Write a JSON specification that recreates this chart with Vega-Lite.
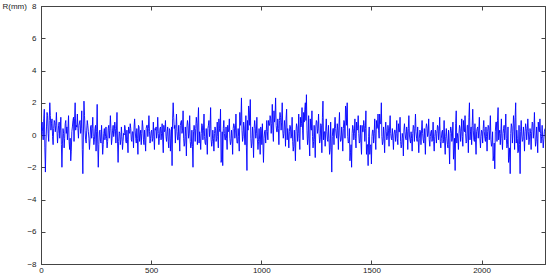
{
  "$schema": "https://vega.github.io/schema/vega-lite/v6.json",
  "width": 504,
  "height": 258,
  "autosize": "none",
  "padding": {"left": 41, "top": 6, "right": 5, "bottom": 13},
  "background": "white",
  "config": {
    "view": {"stroke": "#444", "strokeWidth": 1},
    "axis": {"grid": false, "domainColor": "#444", "tickColor": "#444", "labelColor": "#222", "labelFont": "Liberation Sans", "labelFontSize": 8, "titleFont": "Liberation Sans", "titleFontSize": 8, "titleFontWeight": "normal", "titleColor": "#222"}
  },
  "data": {"values": [
{"x":0,"y":0},{"x":2.5,"y":0.5},{"x":5,"y":0.8},{"x":7.5,"y":0.2},{"x":10,"y":-0.3},{"x":12.5,"y":1.0},{"x":15,"y":1.6},{"x":17.5,"y":-0.8},{"x":20,"y":-2.3},{"x":22.5,"y":-0.5},{"x":25,"y":0.5},{"x":27.5,"y":1.4},{"x":30,"y":1.2},{"x":32.5,"y":0.1},{"x":35,"y":-0.4},{"x":37.5,"y":0.9},{"x":40,"y":2.0},{"x":42.5,"y":1.2},{"x":45,"y":0.3},{"x":47.5,"y":0.7},{"x":50,"y":1.0},{"x":52.5,"y":-0.1},{"x":55,"y":-0.6},{"x":57.5,"y":0.4},{"x":60,"y":0.9},{"x":62.5,"y":0.8},{"x":65,"y":0.2},{"x":67.5,"y":0.6},{"x":70,"y":1.4},{"x":72.5,"y":0.3},{"x":75,"y":-0.5},{"x":77.5,"y":0.1},{"x":80,"y":0.6},{"x":82.5,"y":0.8},{"x":85,"y":-0.2},{"x":87.5,"y":0.3},{"x":90,"y":1.1},{"x":92.5,"y":-0.6},{"x":95,"y":-2.0},{"x":97.5,"y":-0.5},{"x":100,"y":0.4},
{"x":102.5,"y":0.1},{"x":105,"y":-0.8},{"x":107.5,"y":-0.2},{"x":110,"y":0.7},{"x":112.5,"y":0.9},{"x":115,"y":0.1},{"x":117.5,"y":0.5},{"x":120,"y":-0.3},{"x":122.5,"y":0.4},{"x":125,"y":1.2},{"x":127.5,"y":-0.4},{"x":130,"y":-0.9},{"x":132.5,"y":-0.2},{"x":135,"y":-1.6},{"x":137.5,"y":-1.0},{"x":140,"y":0.2},{"x":142.5,"y":0.5},{"x":145,"y":0.9},{"x":147.5,"y":1.1},{"x":150,"y":-0.4},{"x":152.5,"y":1.0},{"x":155,"y":2.0},{"x":157.5,"y":0.3},{"x":160,"y":0.6},{"x":162.5,"y":0.5},{"x":165,"y":1.3},{"x":167.5,"y":0.4},{"x":170,"y":-0.2},{"x":172.5,"y":0.6},{"x":175,"y":0.8},{"x":177.5,"y":0.9},{"x":180,"y":0.1},{"x":182.5,"y":0.4},{"x":185,"y":1.5},{"x":187.5,"y":-0.9},{"x":190,"y":-2.4},{"x":192.5,"y":0.0},{"x":195,"y":2.1},{"x":197.5,"y":1.2},{"x":200,"y":0.3},
{"x":202.5,"y":-0.3},{"x":205,"y":-0.5},{"x":207.5,"y":0.3},{"x":210,"y":0.9},{"x":212.5,"y":0.6},{"x":215,"y":0.2},{"x":217.5,"y":-0.2},{"x":220,"y":-0.9},{"x":222.5,"y":-0.3},{"x":225,"y":0.5},{"x":227.5,"y":0.6},{"x":230,"y":-0.2},{"x":232.5,"y":0.4},{"x":235,"y":1.1},{"x":237.5,"y":-0.1},{"x":240,"y":-0.6},{"x":242.5,"y":-0.3},{"x":245,"y":0.4},{"x":247.5,"y":0.6},{"x":250,"y":-1.0},{"x":252.5,"y":0.2},{"x":255,"y":1.9},{"x":257.5,"y":-0.5},{"x":260,"y":-2.0},{"x":262.5,"y":-0.6},{"x":265,"y":0.2},{"x":267.5,"y":0.3},{"x":270,"y":-0.4},{"x":272.5,"y":-0.5},{"x":275,"y":0.6},{"x":277.5,"y":-0.3},{"x":280,"y":-1.2},{"x":282.5,"y":-0.6},{"x":285,"y":0.1},{"x":287.5,"y":0.4},{"x":290,"y":-0.3},{"x":292.5,"y":-0.1},{"x":295,"y":0.5},{"x":297.5,"y":-0.2},{"x":300,"y":-0.8},
{"x":302.5,"y":-0.4},{"x":305,"y":0.4},{"x":307.5,"y":0.6},{"x":310,"y":-0.2},{"x":312.5,"y":0.3},{"x":315,"y":1.2},{"x":317.5,"y":0.4},{"x":320,"y":-0.6},{"x":322.5,"y":-0.2},{"x":325,"y":0.3},{"x":327.5,"y":0.6},{"x":330,"y":-0.1},{"x":332.5,"y":0.2},{"x":335,"y":0.8},{"x":337.5,"y":0.4},{"x":340,"y":-0.5},{"x":342.5,"y":0.3},{"x":345,"y":1.4},{"x":347.5,"y":-0.5},{"x":350,"y":-1.7},{"x":352.5,"y":-0.4},{"x":355,"y":0.2},{"x":357.5,"y":0.1},{"x":360,"y":-0.6},{"x":362.5,"y":-0.3},{"x":365,"y":0.5},{"x":367.5,"y":-0.1},{"x":370,"y":-0.9},{"x":372.5,"y":-0.4},{"x":375,"y":0.1},{"x":377.5,"y":0.0},{"x":380,"y":0.6},{"x":382.5,"y":0.4},{"x":385,"y":-0.4},{"x":387.5,"y":-0.5},{"x":390,"y":0.3},{"x":392.5,"y":-0.3},{"x":395,"y":-1.1},{"x":397.5,"y":0.5},{"x":400,"y":0.2},
{"x":402.5,"y":0.1},{"x":405,"y":0.7},{"x":407.5,"y":0.4},{"x":410,"y":-0.3},{"x":412.5,"y":-0.4},{"x":415,"y":0.2},{"x":417.5,"y":0.2},{"x":420,"y":-0.8},{"x":422.5,"y":0.5},{"x":425,"y":1.0},{"x":427.5,"y":0.3},{"x":430,"y":-0.2},{"x":432.5,"y":-0.5},{"x":435,"y":0.4},{"x":437.5,"y":-0.2},{"x":440,"y":-1.2},{"x":442.5,"y":0.6},{"x":445,"y":0.5},{"x":447.5,"y":-0.4},{"x":450,"y":0.0},{"x":452.5,"y":0.3},{"x":455,"y":-0.6},{"x":457.5,"y":0.1},{"x":460,"y":0.9},{"x":462.5,"y":0.5},{"x":465,"y":-0.3},{"x":467.5,"y":-0.6},{"x":470,"y":0.3},{"x":472.5,"y":-0.3},{"x":475,"y":-1.0},{"x":477.5,"y":0.4},{"x":480,"y":0.6},{"x":482.5,"y":0.6},{"x":485,"y":-0.1},{"x":487.5,"y":0.4},{"x":490,"y":1.2},{"x":492.5,"y":0.2},{"x":495,"y":-0.5},{"x":497.5,"y":-0.2},{"x":500,"y":0.2},
{"x":502.5,"y":0.3},{"x":505,"y":-0.4},{"x":507.5,"y":-0.2},{"x":510,"y":0.8},{"x":512.5,"y":-0.1},{"x":515,"y":-0.9},{"x":517.5,"y":0.4},{"x":520,"y":0.3},{"x":522.5,"y":0.5},{"x":525,"y":-0.2},{"x":527.5,"y":0.2},{"x":530,"y":1.1},{"x":532.5,"y":0.1},{"x":535,"y":-0.6},{"x":537.5,"y":-0.2},{"x":540,"y":0.4},{"x":542.5,"y":0.5},{"x":545,"y":-0.3},{"x":547.5,"y":0.1},{"x":550,"y":0.7},{"x":552.5,"y":-0.3},{"x":555,"y":-1.1},{"x":557.5,"y":0.6},{"x":560,"y":0.2},{"x":562.5,"y":0.3},{"x":565,"y":0.9},{"x":567.5,"y":-0.1},{"x":570,"y":-0.4},{"x":572.5,"y":0.2},{"x":575,"y":0.5},{"x":577.5,"y":-0.4},{"x":580,"y":-0.8},{"x":582.5,"y":0.4},{"x":585,"y":0.3},{"x":587.5,"y":-1.0},{"x":590,"y":-0.2},{"x":592.5,"y":0.5},{"x":595,"y":-1.9},{"x":597.5,"y":1.0},{"x":600,"y":2.0},
{"x":602.5,"y":1.1},{"x":605,"y":0.4},{"x":607.5,"y":0.6},{"x":610,"y":-0.5},{"x":612.5,"y":0.4},{"x":615,"y":1.3},{"x":617.5,"y":0.2},{"x":620,"y":-0.3},{"x":622.5,"y":-0.3},{"x":625,"y":0.6},{"x":627.5,"y":-0.1},{"x":630,"y":-1.0},{"x":632.5,"y":0.6},{"x":635,"y":0.8},{"x":637.5,"y":0.9},{"x":640,"y":0.1},{"x":642.5,"y":0.3},{"x":645,"y":1.5},{"x":647.5,"y":-0.2},{"x":650,"y":-0.7},{"x":652.5,"y":-0.5},{"x":655,"y":0.5},{"x":657.5,"y":-0.1},{"x":660,"y":-1.3},{"x":662.5,"y":0.5},{"x":665,"y":0.9},{"x":667.5,"y":0.6},{"x":670,"y":-0.2},{"x":672.5,"y":0.1},{"x":675,"y":1.2},{"x":677.5,"y":-0.4},{"x":680,"y":-0.8},{"x":682.5,"y":-0.6},{"x":685,"y":0.3},{"x":687.5,"y":-0.7},{"x":690,"y":-2.0},{"x":692.5,"y":0.2},{"x":695,"y":0.6},{"x":697.5,"y":0.3},{"x":700,"y":-0.4},
{"x":702.5,"y":0.4},{"x":705,"y":1.1},{"x":707.5,"y":0.7},{"x":710,"y":-0.6},{"x":712.5,"y":0.8},{"x":715,"y":1.7},{"x":717.5,"y":-0.5},{"x":720,"y":0.2},{"x":722.5,"y":-0.2},{"x":725,"y":-0.9},{"x":727.5,"y":0.1},{"x":730,"y":0.7},{"x":732.5,"y":0.6},{"x":735,"y":-0.3},{"x":737.5,"y":0.3},{"x":740,"y":1.3},{"x":742.5,"y":-0.1},{"x":745,"y":-0.5},{"x":747.5,"y":-0.6},{"x":750,"y":0.4},{"x":752.5,"y":-0.2},{"x":755,"y":-1.2},{"x":757.5,"y":0.4},{"x":760,"y":0.6},{"x":762.5,"y":0.9},{"x":765,"y":-0.1},{"x":767.5,"y":0.4},{"x":770,"y":1.7},{"x":772.5,"y":-0.3},{"x":775,"y":-0.7},{"x":777.5,"y":-0.4},{"x":780,"y":0.3},{"x":782.5,"y":-0.2},{"x":785,"y":-1.0},{"x":787.5,"y":0.1},{"x":790,"y":0.5},{"x":792.5,"y":0.3},{"x":795,"y":-0.4},{"x":797.5,"y":-0.2},{"x":800,"y":0.8},
{"x":802.5,"y":-0.1},{"x":805,"y":-0.8},{"x":807.5,"y":1.0},{"x":810,"y":0.4},{"x":812.5,"y":0.2},{"x":815,"y":1.6},{"x":817.5,"y":-1.7},{"x":820,"y":-1.5},{"x":822.5,"y":0.2},{"x":825,"y":-1.9},{"x":827.5,"y":0.4},{"x":830,"y":0.9},{"x":832.5,"y":0.1},{"x":835,"y":-0.3},{"x":837.5,"y":-0.3},{"x":840,"y":0.5},{"x":842.5,"y":-0.2},{"x":845,"y":-0.9},{"x":847.5,"y":0.6},{"x":850,"y":0.2},{"x":852.5,"y":0.3},{"x":855,"y":1.0},{"x":857.5,"y":-0.2},{"x":860,"y":-0.6},{"x":862.5,"y":-0.4},{"x":865,"y":0.3},{"x":867.5,"y":-0.2},{"x":870,"y":-1.2},{"x":872.5,"y":0.4},{"x":875,"y":0.7},{"x":877.5,"y":0.6},{"x":880,"y":-0.2},{"x":882.5,"y":0.3},{"x":885,"y":1.3},{"x":887.5,"y":0.0},{"x":890,"y":-0.5},{"x":892.5,"y":-0.5},{"x":895,"y":0.4},{"x":897.5,"y":-0.1},{"x":900,"y":-1.0},
{"x":902.5,"y":1.4},{"x":905,"y":0.6},{"x":907.5,"y":0.9},{"x":910,"y":2.3},{"x":912.5,"y":0.3},{"x":915,"y":-0.4},{"x":917.5,"y":-0.1},{"x":920,"y":0.8},{"x":922.5,"y":0.5},{"x":925,"y":-0.6},{"x":927.5,"y":-0.6},{"x":930,"y":1.2},{"x":932.5,"y":-0.8},{"x":935,"y":-2.2},{"x":937.5,"y":0.9},{"x":940,"y":0.3},{"x":942.5,"y":1.8},{"x":945,"y":1.5},{"x":947.5,"y":0.6},{"x":950,"y":2.2},{"x":952.5,"y":-0.2},{"x":955,"y":-0.8},{"x":957.5,"y":-0.5},{"x":960,"y":0.5},{"x":962.5,"y":-0.2},{"x":965,"y":-1.4},{"x":967.5,"y":0.4},{"x":970,"y":0.9},{"x":972.5,"y":0.5},{"x":975,"y":-0.2},{"x":977.5,"y":0.1},{"x":980,"y":1.1},{"x":982.5,"y":-0.3},{"x":985,"y":-0.9},{"x":987.5,"y":-0.4},{"x":990,"y":0.4},{"x":992.5,"y":-0.3},{"x":995,"y":-1.2},{"x":997.5,"y":0.5},{"x":1000,"y":0.3},
{"x":1002.5,"y":-0.6},{"x":1005,"y":0.7},{"x":1007.5,"y":-0.5},{"x":1010,"y":-1.7},{"x":1012.5,"y":-0.2},{"x":1015,"y":0.2},{"x":1017.5,"y":0.3},{"x":1020,"y":-0.5},{"x":1022.5,"y":0.2},{"x":1025,"y":0.9},{"x":1027.5,"y":0.2},{"x":1030,"y":-0.3},{"x":1032.5,"y":0.9},{"x":1035,"y":0.6},{"x":1037.5,"y":0.6},{"x":1040,"y":1.2},{"x":1042.5,"y":1.0},{"x":1045,"y":0.1},{"x":1047.5,"y":0.7},{"x":1050,"y":1.9},{"x":1052.5,"y":0.3},{"x":1055,"y":-0.4},{"x":1057.5,"y":1.5},{"x":1060,"y":0.8},{"x":1062.5,"y":1.1},{"x":1065,"y":2.3},{"x":1067.5,"y":0.6},{"x":1070,"y":0.2},{"x":1072.5,"y":0.2},{"x":1075,"y":1.0},{"x":1077.5,"y":0.4},{"x":1080,"y":-0.6},{"x":1082.5,"y":0.9},{"x":1085,"y":1.4},{"x":1087.5,"y":1.1},{"x":1090,"y":0.3},{"x":1092.5,"y":0.8},{"x":1095,"y":2.0},{"x":1097.5,"y":0.3},{"x":1100,"y":-0.2},
{"x":1102.5,"y":0.1},{"x":1105,"y":0.9},{"x":1107.5,"y":0.5},{"x":1110,"y":-0.7},{"x":1112.5,"y":1.0},{"x":1115,"y":1.6},{"x":1117.5,"y":-0.3},{"x":1120,"y":0.4},{"x":1122.5,"y":0.0},{"x":1125,"y":-0.8},{"x":1127.5,"y":0.2},{"x":1130,"y":0.6},{"x":1132.5,"y":0.5},{"x":1135,"y":-0.2},{"x":1137.5,"y":0.0},{"x":1140,"y":1.1},{"x":1142.5,"y":-0.4},{"x":1145,"y":-1.0},{"x":1147.5,"y":-0.7},{"x":1150,"y":0.3},{"x":1152.5,"y":-0.5},{"x":1155,"y":-1.6},{"x":1157.5,"y":0.2},{"x":1160,"y":0.7},{"x":1162.5,"y":0.5},{"x":1165,"y":-0.4},{"x":1167.5,"y":0.1},{"x":1170,"y":1.3},{"x":1172.5,"y":-0.2},{"x":1175,"y":-0.9},{"x":1177.5,"y":1.1},{"x":1180,"y":0.5},{"x":1182.5,"y":0.7},{"x":1185,"y":1.7},{"x":1187.5,"y":0.3},{"x":1190,"y":-0.3},{"x":1192.5,"y":1.4},{"x":1195,"y":0.8},{"x":1197.5,"y":1.6},{"x":1200,"y":2.0},
{"x":1202.5,"y":0.9},{"x":1205,"y":2.5},{"x":1207.5,"y":0.3},{"x":1210,"y":-0.6},{"x":1212.5,"y":-0.2},{"x":1215,"y":1.2},{"x":1217.5,"y":-0.5},{"x":1220,"y":-1.3},{"x":1222.5,"y":1.0},{"x":1225,"y":0.4},{"x":1227.5,"y":0.3},{"x":1230,"y":1.5},{"x":1232.5,"y":-0.1},{"x":1235,"y":-0.8},{"x":1237.5,"y":-0.4},{"x":1240,"y":0.6},{"x":1242.5,"y":-0.3},{"x":1245,"y":-1.4},{"x":1247.5,"y":0.5},{"x":1250,"y":0.9},{"x":1252.5,"y":0.8},{"x":1255,"y":0.1},{"x":1257.5,"y":0.4},{"x":1260,"y":1.3},{"x":1262.5,"y":0.1},{"x":1265,"y":-0.5},{"x":1267.5,"y":-0.3},{"x":1270,"y":0.7},{"x":1272.5,"y":0.6},{"x":1275,"y":-1.1},{"x":1277.5,"y":1.1},{"x":1280,"y":2.1},{"x":1282.5,"y":-0.3},{"x":1285,"y":0.2},{"x":1287.5,"y":0.2},{"x":1290,"y":-0.7},{"x":1292.5,"y":0.3},{"x":1295,"y":1.0},{"x":1297.5,"y":0.2},{"x":1300,"y":-0.3},
{"x":1302.5,"y":-0.4},{"x":1305,"y":0.6},{"x":1307.5,"y":-0.2},{"x":1310,"y":-1.2},{"x":1312.5,"y":-0.9},{"x":1315,"y":0.8},{"x":1317.5,"y":-0.8},{"x":1320,"y":-2.3},{"x":1322.5,"y":-0.1},{"x":1325,"y":0.4},{"x":1327.5,"y":0.4},{"x":1330,"y":-0.6},{"x":1332.5,"y":0.5},{"x":1335,"y":1.1},{"x":1337.5,"y":0.4},{"x":1340,"y":0.0},{"x":1342.5,"y":-0.2},{"x":1345,"y":0.7},{"x":1347.5,"y":0.3},{"x":1350,"y":-0.9},{"x":1352.5,"y":0.5},{"x":1355,"y":1.4},{"x":1357.5,"y":0.0},{"x":1360,"y":-0.4},{"x":1362.5,"y":-0.3},{"x":1365,"y":0.5},{"x":1367.5,"y":0.0},{"x":1370,"y":-1.0},{"x":1372.5,"y":0.4},{"x":1375,"y":0.9},{"x":1377.5,"y":0.8},{"x":1380,"y":-0.2},{"x":1382.5,"y":1.8},{"x":1385,"y":1.6},{"x":1387.5,"y":0.6},{"x":1390,"y":2.0},{"x":1392.5,"y":-0.1},{"x":1395,"y":-0.5},{"x":1397.5,"y":-0.4},{"x":1400,"y":0.4},
{"x":1402.5,"y":-1.6},{"x":1405,"y":-1.1},{"x":1407.5,"y":-0.6},{"x":1410,"y":-2.0},{"x":1412.5,"y":0.1},{"x":1415,"y":0.6},{"x":1417.5,"y":0.4},{"x":1420,"y":-0.3},{"x":1422.5,"y":0.1},{"x":1425,"y":1.0},{"x":1427.5,"y":-0.2},{"x":1430,"y":-0.8},{"x":1432.5,"y":0.8},{"x":1435,"y":0.3},{"x":1437.5,"y":0.4},{"x":1440,"y":1.2},{"x":1442.5,"y":0.1},{"x":1445,"y":-0.5},{"x":1447.5,"y":-0.4},{"x":1450,"y":0.6},{"x":1452.5,"y":-0.5},{"x":1455,"y":-1.2},{"x":1457.5,"y":0.6},{"x":1460,"y":0.2},{"x":1462.5,"y":0.2},{"x":1465,"y":0.9},{"x":1467.5,"y":0.6},{"x":1470,"y":-0.4},{"x":1472.5,"y":0.4},{"x":1475,"y":1.5},{"x":1477.5,"y":-1.2},{"x":1480,"y":-0.6},{"x":1482.5,"y":-0.6},{"x":1485,"y":-1.9},{"x":1487.5,"y":-0.1},{"x":1490,"y":0.5},{"x":1492.5,"y":-1.2},{"x":1495,"y":-0.7},{"x":1497.5,"y":-0.6},{"x":1500,"y":-1.8},
{"x":1502.5,"y":-0.1},{"x":1505,"y":0.3},{"x":1507.5,"y":0.3},{"x":1510,"y":-0.5},{"x":1512.5,"y":0.1},{"x":1515,"y":1.0},{"x":1517.5,"y":-0.3},{"x":1520,"y":-0.9},{"x":1522.5,"y":0.9},{"x":1525,"y":0.4},{"x":1527.5,"y":0.5},{"x":1530,"y":1.3},{"x":1532.5,"y":0.3},{"x":1535,"y":-0.2},{"x":1537.5,"y":1.3},{"x":1540,"y":0.7},{"x":1542.5,"y":0.7},{"x":1545,"y":2.0},{"x":1547.5,"y":-0.1},{"x":1550,"y":-0.6},{"x":1552.5,"y":-0.4},{"x":1555,"y":0.5},{"x":1557.5,"y":-0.2},{"x":1560,"y":-1.1},{"x":1562.5,"y":0.3},{"x":1565,"y":0.8},{"x":1567.5,"y":0.2},{"x":1570,"y":-0.3},{"x":1572.5,"y":-0.1},{"x":1575,"y":0.6},{"x":1577.5,"y":0.3},{"x":1580,"y":-0.7},{"x":1582.5,"y":0.5},{"x":1585,"y":1.2},{"x":1587.5,"y":0.1},{"x":1590,"y":-0.2},{"x":1592.5,"y":-0.3},{"x":1595,"y":0.4},{"x":1597.5,"y":-0.2},{"x":1600,"y":-0.9},
{"x":1602.5,"y":0.0},{"x":1605,"y":0.3},{"x":1607.5,"y":0.3},{"x":1610,"y":-0.4},{"x":1612.5,"y":0.1},{"x":1615,"y":0.9},{"x":1617.5,"y":-0.2},{"x":1620,"y":-0.6},{"x":1622.5,"y":0.7},{"x":1625,"y":0.2},{"x":1627.5,"y":0.2},{"x":1630,"y":1.1},{"x":1632.5,"y":-0.4},{"x":1635,"y":-0.8},{"x":1637.5,"y":-0.6},{"x":1640,"y":0.1},{"x":1642.5,"y":-0.2},{"x":1645,"y":-1.3},{"x":1647.5,"y":0.3},{"x":1650,"y":0.7},{"x":1652.5,"y":0.2},{"x":1655,"y":-0.2},{"x":1657.5,"y":-0.3},{"x":1660,"y":0.5},{"x":1662.5,"y":0.2},{"x":1665,"y":-0.9},{"x":1667.5,"y":0.4},{"x":1670,"y":1.2},{"x":1672.5,"y":0.0},{"x":1675,"y":-0.3},{"x":1677.5,"y":-0.5},{"x":1680,"y":0.2},{"x":1682.5,"y":-0.2},{"x":1685,"y":-1.0},{"x":1687.5,"y":0.1},{"x":1690,"y":0.6},{"x":1692.5,"y":0.5},{"x":1695,"y":-0.4},{"x":1697.5,"y":0.4},{"x":1700,"y":1.3},
{"x":1702.5,"y":0.2},{"x":1705,"y":-0.2},{"x":1707.5,"y":-0.4},{"x":1710,"y":0.5},{"x":1712.5,"y":-0.3},{"x":1715,"y":-1.1},{"x":1717.5,"y":-0.2},{"x":1720,"y":0.3},{"x":1722.5,"y":0.2},{"x":1725,"y":-0.6},{"x":1727.5,"y":0.3},{"x":1730,"y":0.9},{"x":1732.5,"y":0.1},{"x":1735,"y":-0.3},{"x":1737.5,"y":-0.5},{"x":1740,"y":0.4},{"x":1742.5,"y":-0.2},{"x":1745,"y":-1.2},{"x":1747.5,"y":0.4},{"x":1750,"y":0.7},{"x":1752.5,"y":0.5},{"x":1755,"y":-0.1},{"x":1757.5,"y":0.1},{"x":1760,"y":1.0},{"x":1762.5,"y":-0.3},{"x":1765,"y":-0.7},{"x":1767.5,"y":-0.1},{"x":1770,"y":0.2},{"x":1772.5,"y":0.3},{"x":1775,"y":-0.4},{"x":1777.5,"y":-0.2},{"x":1780,"y":0.8},{"x":1782.5,"y":-0.4},{"x":1785,"y":-1.0},{"x":1787.5,"y":-0.1},{"x":1790,"y":0.3},{"x":1792.5,"y":0.2},{"x":1795,"y":-0.5},{"x":1797.5,"y":0.1},{"x":1800,"y":0.6},
{"x":1802.5,"y":0.5},{"x":1805,"y":-0.3},{"x":1807.5,"y":0.2},{"x":1810,"y":1.1},{"x":1812.5,"y":-0.4},{"x":1815,"y":-0.8},{"x":1817.5,"y":-0.2},{"x":1820,"y":0.2},{"x":1822.5,"y":0.3},{"x":1825,"y":-0.5},{"x":1827.5,"y":-0.3},{"x":1830,"y":0.9},{"x":1832.5,"y":-0.5},{"x":1835,"y":-1.2},{"x":1837.5,"y":-0.1},{"x":1840,"y":0.4},{"x":1842.5,"y":-0.2},{"x":1845,"y":-0.6},{"x":1847.5,"y":-0.8},{"x":1850,"y":0.3},{"x":1852.5,"y":-0.6},{"x":1855,"y":-1.8},{"x":1857.5,"y":0.1},{"x":1860,"y":0.5},{"x":1862.5,"y":0.3},{"x":1865,"y":-0.4},{"x":1867.5,"y":-0.2},{"x":1870,"y":0.8},{"x":1872.5,"y":-1.5},{"x":1875,"y":-1.0},{"x":1877.5,"y":-0.2},{"x":1880,"y":-2.2},{"x":1882.5,"y":0.7},{"x":1885,"y":1.5},{"x":1887.5,"y":-0.5},{"x":1890,"y":0.1},{"x":1892.5,"y":-0.2},{"x":1895,"y":-0.9},{"x":1897.5,"y":0.1},{"x":1900,"y":0.6},
{"x":1902.5,"y":0.4},{"x":1905,"y":-0.4},{"x":1907.5,"y":0.2},{"x":1910,"y":1.0},{"x":1912.5,"y":-0.1},{"x":1915,"y":-0.7},{"x":1917.5,"y":0.9},{"x":1920,"y":0.3},{"x":1922.5,"y":0.2},{"x":1925,"y":1.2},{"x":1927.5,"y":0.1},{"x":1930,"y":-0.5},{"x":1932.5,"y":-0.4},{"x":1935,"y":0.6},{"x":1937.5,"y":0.6},{"x":1940,"y":-1.1},{"x":1942.5,"y":1.1},{"x":1945,"y":2.0},{"x":1947.5,"y":-0.3},{"x":1950,"y":0.2},{"x":1952.5,"y":0.5},{"x":1955,"y":-0.6},{"x":1957.5,"y":0.6},{"x":1960,"y":1.6},{"x":1962.5,"y":0.3},{"x":1965,"y":-0.3},{"x":1967.5,"y":-0.4},{"x":1970,"y":0.7},{"x":1972.5,"y":-0.3},{"x":1975,"y":-1.2},{"x":1977.5,"y":0.2},{"x":1980,"y":0.4},{"x":1982.5,"y":0.5},{"x":1985,"y":-0.2},{"x":1987.5,"y":0.3},{"x":1990,"y":1.1},{"x":1992.5,"y":-0.2},{"x":1995,"y":-0.8},{"x":1997.5,"y":-0.1},{"x":2000,"y":0.3},
{"x":2002.5,"y":0.2},{"x":2005,"y":-0.5},{"x":2007.5,"y":0.4},{"x":2010,"y":0.9},{"x":2012.5,"y":0.2},{"x":2015,"y":-0.2},{"x":2017.5,"y":-0.4},{"x":2020,"y":0.5},{"x":2022.5,"y":-0.1},{"x":2025,"y":-1.0},{"x":2027.5,"y":0.2},{"x":2030,"y":0.6},{"x":2032.5,"y":0.5},{"x":2035,"y":-0.3},{"x":2037.5,"y":0.3},{"x":2040,"y":1.2},{"x":2042.5,"y":-0.3},{"x":2045,"y":-0.7},{"x":2047.5,"y":-0.5},{"x":2050,"y":0.2},{"x":2052.5,"y":-1.6},{"x":2055,"y":-1.3},{"x":2057.5,"y":-0.5},{"x":2060,"y":-2.1},{"x":2062.5,"y":0.2},{"x":2065,"y":0.8},{"x":2067.5,"y":0.8},{"x":2070,"y":-0.4},{"x":2072.5,"y":0.9},{"x":2075,"y":1.7},{"x":2077.5,"y":-0.3},{"x":2080,"y":0.1},{"x":2082.5,"y":0.3},{"x":2085,"y":-0.6},{"x":2087.5,"y":0.1},{"x":2090,"y":1.0},{"x":2092.5,"y":-0.2},{"x":2095,"y":-0.9},{"x":2097.5,"y":0.1},{"x":2100,"y":0.4},
{"x":2102.5,"y":0.6},{"x":2105,"y":-0.3},{"x":2107.5,"y":0.3},{"x":2110,"y":1.3},{"x":2112.5,"y":-0.2},{"x":2115,"y":-0.8},{"x":2117.5,"y":-0.6},{"x":2120,"y":0.5},{"x":2122.5,"y":-1.7},{"x":2125,"y":-1.4},{"x":2127.5,"y":-0.8},{"x":2130,"y":-2.4},{"x":2132.5,"y":0.1},{"x":2135,"y":0.7},{"x":2137.5,"y":0.5},{"x":2140,"y":-0.5},{"x":2142.5,"y":0.2},{"x":2145,"y":1.2},{"x":2147.5,"y":0.7},{"x":2150,"y":-0.9},{"x":2152.5,"y":1.1},{"x":2155,"y":2.0},{"x":2157.5,"y":-0.5},{"x":2160,"y":0.3},{"x":2162.5,"y":-0.2},{"x":2165,"y":-1.1},{"x":2167.5,"y":-1.0},{"x":2170,"y":0.6},{"x":2172.5,"y":-0.6},{"x":2175,"y":-2.4},{"x":2177.5,"y":0.2},{"x":2180,"y":0.9},{"x":2182.5,"y":0.0},{"x":2185,"y":-0.4},{"x":2187.5,"y":-0.3},{"x":2190,"y":0.5},{"x":2192.5,"y":-0.1},{"x":2195,"y":-1.0},{"x":2197.5,"y":0.2},{"x":2200,"y":0.7},
{"x":2202.5,"y":0.4},{"x":2205,"y":-0.3},{"x":2207.5,"y":0.3},{"x":2210,"y":1.0},{"x":2212.5,"y":0.2},{"x":2215,"y":-0.6},{"x":2217.5,"y":-0.3},{"x":2220,"y":0.4},{"x":2222.5,"y":0.1},{"x":2225,"y":-0.9},{"x":2227.5,"y":0.2},{"x":2230,"y":0.8},{"x":2232.5,"y":0.7},{"x":2235,"y":-0.2},{"x":2237.5,"y":0.3},{"x":2240,"y":1.4},{"x":2242.5,"y":0.0},{"x":2245,"y":-0.7},{"x":2247.5,"y":-0.4},{"x":2250,"y":0.5},{"x":2252.5,"y":-0.2},{"x":2255,"y":-1.1},{"x":2257.5,"y":0.8},{"x":2260,"y":0.3},{"x":2262.5,"y":0.2},{"x":2265,"y":1.0},{"x":2267.5,"y":0.1},{"x":2270,"y":-0.5},{"x":2272.5,"y":-0.1},{"x":2275,"y":0.6},{"x":2277.5,"y":-0.2},{"x":2280,"y":-0.8},{"x":2282.5,"y":-0.3},{"x":2285,"y":0.2},{"x":2288,"y":0.4}
  ]},
  "layer": [
    {
      "mark": {"type": "line", "color": "#0000ff", "strokeWidth": 0.9, "clip": true},
      "encoding": {
        "x": {"field": "x", "type": "quantitative", "scale": {"domain": [0, 2288], "nice": false, "zero": false},
              "axis": {"orient": "bottom", "values": [0, 500, 1000, 1500, 2000], "format": "d", "title": null, "tickSize": -4, "labelPadding": 6, "labelFlush": false}},
        "y": {"field": "y", "type": "quantitative", "scale": {"domain": [-8, 8], "nice": false},
              "axis": {"orient": "left", "values": [-8, -6, -4, -2, 0, 2, 4, 6, 8], "format": "d", "title": "R(mm)", "titleAngle": 0, "titleAlign": "left", "titleBaseline": "middle", "titleX": -39, "titleY": 0, "tickSize": -4, "labelPadding": 9}}
      }
    },
    {
      "mark": {"type": "line", "opacity": 0},
      "encoding": {
        "x": {"field": "x", "type": "quantitative", "scale": {"domain": [0, 2288], "nice": false, "zero": false},
              "axis": {"orient": "top", "values": [0, 500, 1000, 1500, 2000], "title": null, "labels": false, "tickSize": -4}},
        "y": {"field": "y", "type": "quantitative", "scale": {"domain": [-8, 8], "nice": false},
              "axis": {"orient": "right", "values": [-8, -6, -4, -2, 0, 2, 4, 6, 8], "title": null, "labels": false, "tickSize": -4}}
      }
    }
  ],
  "resolve": {"axis": {"x": "independent", "y": "independent"}}
}
